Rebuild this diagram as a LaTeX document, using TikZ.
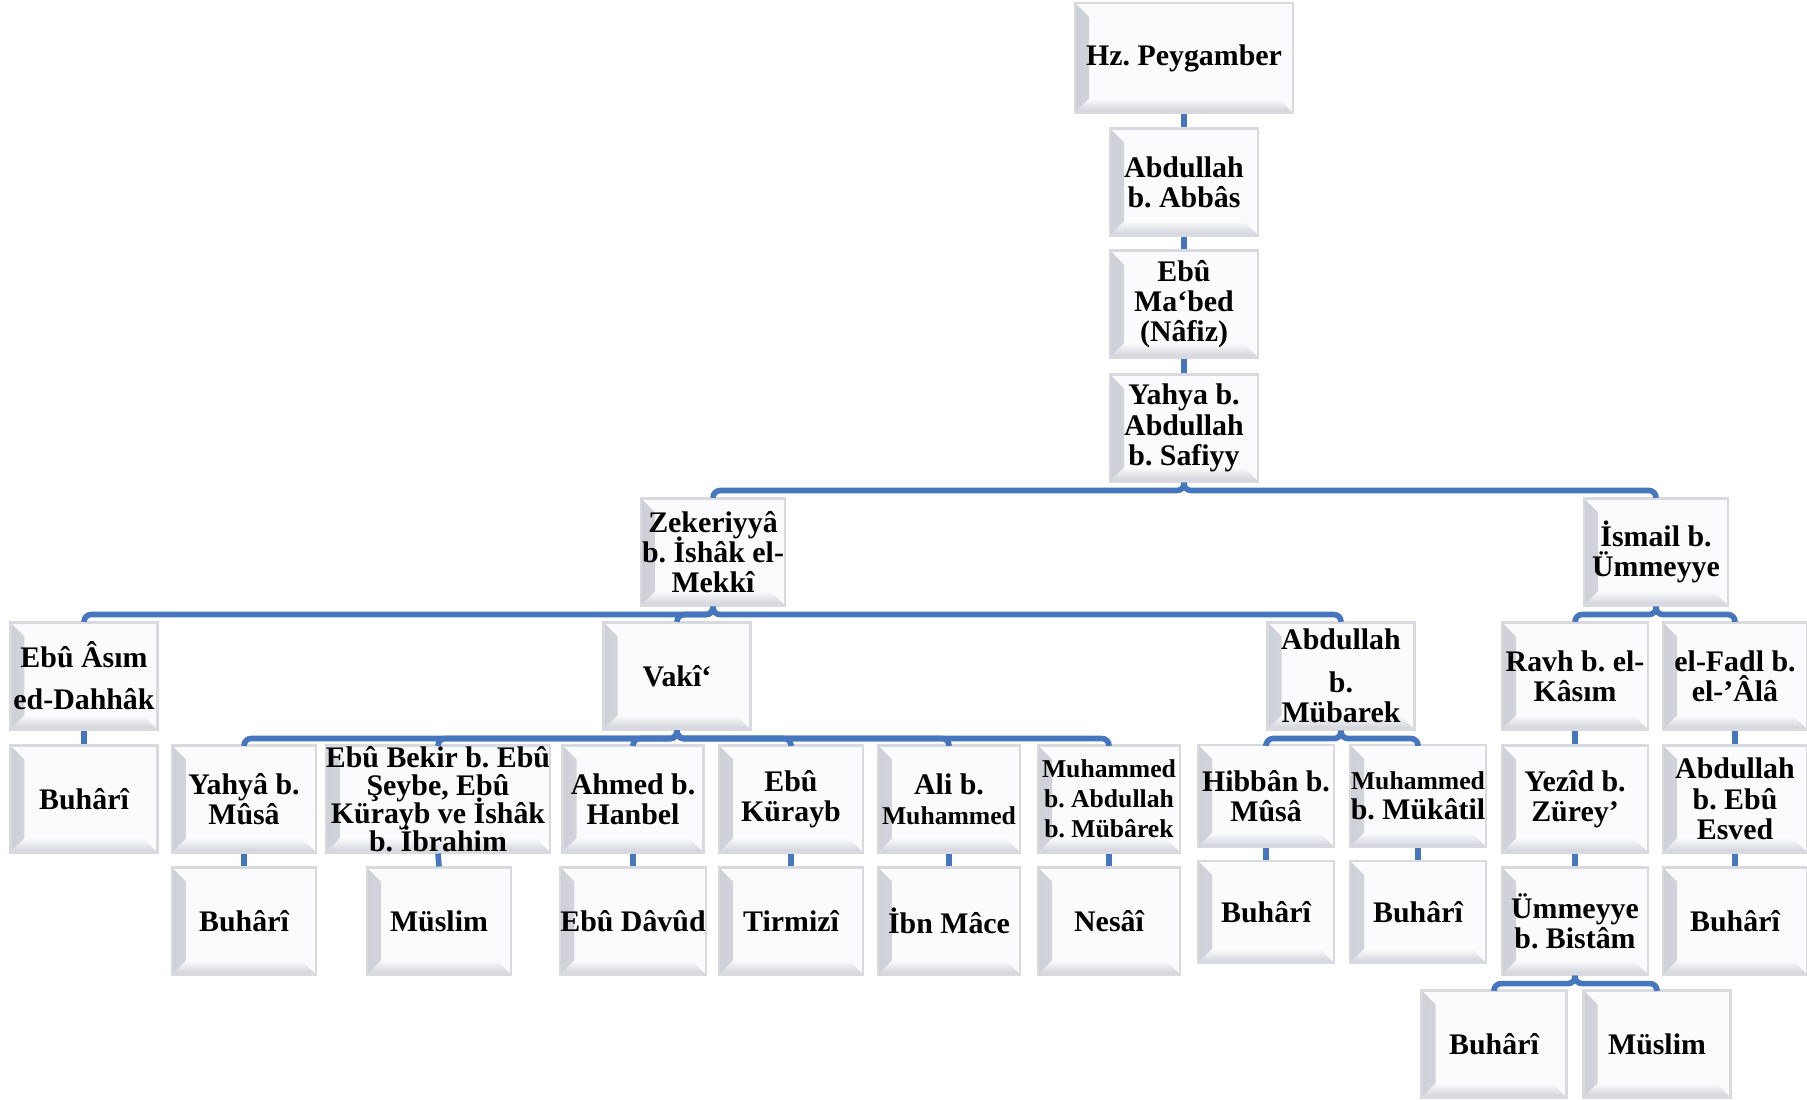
\documentclass[tikz,border=0pt]{standalone}
\usepackage{fontspec}
\setmainfont{Liberation Serif}
\usepackage{tikz}

\definecolor{linkblue}{RGB}{70,118,190}
\definecolor{boxedge}{RGB}{216,218,224}
\definecolor{boxfill}{RGB}{251,251,253}
\definecolor{bevelgray}{RGB}{206,208,216}

\newcommand{\namefont}{\fontsize{8.5pt}{8.6pt}\selectfont\bfseries
  \frenchspacing\lineskiplimit=-20pt}
\newcommand{\smallname}{\fontsize{7.3pt}{8.3pt}\selectfont}

\begin{document}
\begin{tikzpicture}[
  box/.style={draw=boxedge, line width=0.6pt, fill=boxfill,
    minimum width=1.44cm, minimum height=1.07cm, inner sep=0pt,
    align=center, font=\namefont,
    path picture={
      \shade[left color=bevelgray, right color=boxfill]
        (path picture bounding box.south west)
        -- (path picture bounding box.north west)
        -- ([shift={(0.14,-0.14)}]path picture bounding box.north west)
        -- ([shift={(0.14,0.14)}]path picture bounding box.south west) -- cycle;
      \shade[top color=boxfill, bottom color=bevelgray]
        (path picture bounding box.south west)
        -- ([shift={(0.14,0.14)}]path picture bounding box.south west)
        -- ([shift={(-0.14,0.14)}]path picture bounding box.south east)
        -- (path picture bounding box.south east) -- cycle;
    }},
  widebox/.style={box, minimum width=2.13cm},
  lowbox/.style={box, minimum width=1.36cm, minimum height=1.02cm},
  link/.style={draw=linkblue, line width=1.6pt, rounded corners=2pt},
]
  \useasboundingbox (0,0) rectangle (18.07,10.99);

  % Top chain
  \node[box, minimum width=2.18cm, minimum height=1.10cm] (peygamber) at (11.84,10.41)
    {Hz. Peygamber};
  \node[box, minimum width=1.48cm] (ibnabbas) at (11.84,9.17)
    {Abdullah\\ b. Abbâs};
  \node[box, minimum width=1.48cm] (mabed) at (11.84,7.95)
    {Ebû\\ Ma‘bed\\ (Nâfiz)};
  \node[box, minimum width=1.48cm] (safiyy) at (11.84,6.71)
    {Yahya b.\\ Abdullah\\ b. Safiyy};

  % Second level
  \node[box] (zekeriyya) at (7.13,5.47) {Zekeriyyâ\\ b. İshâk el-\\ Mekkî};
  \node[box] (ismail) at (16.56,5.47) {İsmail b.\\ Ümmeyye};

  % Third level
  \node[box, minimum width=1.47cm] (dahhak) at (0.84,4.23)
    {Ebû Âsım\\[3.4pt] ed-Dahhâk};
  \node[box, minimum width=1.47cm] (vaki) at (6.77,4.23) {Vakî‘};
  \node[box, minimum width=1.47cm] (mubarek) at (13.41,4.23)
    {Abdullah\\[3.4pt] b.\\ Mübarek};
  \node[box, minimum width=1.46cm] (ravh) at (15.75,4.23) {Ravh b. el-\\ Kâsım};
  \node[box] (fadl) at (17.35,4.23) {el-Fadl b.\\ el-’Âlâ};

  % Fourth level
  \node[box, minimum width=1.47cm] (buhari1) at (0.84,3.00) {Buhârî};
  \node[box] (yahyamusa) at (2.44,3.00) {Yahyâ b.\\ Mûsâ};
  \node[widebox, font=\namefont\fontsize{8.5pt}{8pt}\selectfont] (ebubekir) at (4.38,3.00)
    {Ebû Bekir b. Ebû\\ Şeybe, Ebû\\ Kürayb ve İshâk\\ b. İbrahim};
  \node[box, minimum width=1.41cm] (ahmed) at (6.33,3.00) {Ahmed b.\\ Hanbel};
  \node[box] (kurayb) at (7.91,3.00) {Ebû\\ Kürayb};
  \node[box, minimum width=1.42cm] (ali) at (9.49,3.00)
    {Ali b.\\ {\smallname Muhammed}};
  \node[box, minimum width=1.42cm] (muhabdullah) at (11.09,3.00)
    {\smallname Muhammed\\ \smallname b. Abdullah\\ \smallname b. Mübârek};
  \node[lowbox] (hibban) at (12.66,3.03) {Hibbân b.\\ Mûsâ};
  \node[lowbox] (mukatil) at (14.18,3.03)
    {\smallname Muhammed\\ b. Mükâtil};
  \node[box, minimum width=1.46cm] (yezid) at (15.75,3.00) {Yezîd b.\\ Zürey’};
  \node[box] (esved) at (17.35,3.00) {Abdullah\\ b. Ebû\\ Esved};

  % Fifth level
  \node[box] (buhari2) at (2.44,1.78) {Buhârî};
  \node[box] (muslim1) at (4.39,1.78) {Müslim};
  \node[box, minimum width=1.41cm] (davud) at (6.33,1.78) {Ebû Dâvûd};
  \node[box] (tirmizi) at (7.91,1.78) {Tirmizî};
  \node[box, minimum width=1.42cm] (mace) at (9.49,1.78) {İbn Mâce};
  \node[box, minimum width=1.42cm] (nesai) at (11.09,1.78) {Nesâî};
  \node[lowbox] (buhari3) at (12.66,1.87) {Buhârî};
  \node[lowbox] (buhari4) at (14.18,1.87) {Buhârî};
  \node[box, minimum width=1.46cm] (bistam) at (15.75,1.78) {Ümmeyye\\ b. Bistâm};
  \node[box] (buhari5) at (17.35,1.78) {Buhârî};

  % Bottom
  \node[box, minimum width=1.45cm] (buhari6) at (14.94,0.55) {Buhârî};
  \node[box, minimum width=1.47cm] (muslim2) at (16.57,0.55) {Müslim};

  % Links
  \draw[link] (peygamber) -- (ibnabbas);
  \draw[link] (ibnabbas) -- (mabed);
  \draw[link] (mabed) -- (safiyy);
  \draw[link] (safiyy.south) -- ++(0,-0.08) -| (zekeriyya.north);
  \draw[link] (safiyy.south) -- ++(0,-0.08) -| (ismail.north);
  \draw[link] (zekeriyya.south) -- ++(0,-0.08) -| (dahhak.north);
  \draw[link] (zekeriyya.south) -- ++(0,-0.08) -| (vaki.north);
  \draw[link] (zekeriyya.south) -- ++(0,-0.08) -| (mubarek.north);
  \draw[link] (ismail.south) -- ++(0,-0.08) -| (ravh.north);
  \draw[link] (ismail.south) -- ++(0,-0.08) -| (fadl.north);
  \draw[link] (dahhak) -- (buhari1);
  \draw[link] (vaki.south) -- ++(0,-0.08) -| (yahyamusa.north);
  \draw[link] (vaki.south) -- ++(0,-0.08) -| (ebubekir.north);
  \draw[link] (vaki.south) -- ++(0,-0.08) -| (ahmed.north);
  \draw[link] (vaki.south) -- ++(0,-0.08) -| (kurayb.north);
  \draw[link] (vaki.south) -- ++(0,-0.08) -| (ali.north);
  \draw[link] (vaki.south) -- ++(0,-0.08) -| (muhabdullah.north);
  \draw[link] (mubarek.south) -- ++(0,-0.08) -| (hibban.north);
  \draw[link] (mubarek.south) -- ++(0,-0.08) -| (mukatil.north);
  \draw[link] (ravh) -- (yezid);
  \draw[link] (fadl) -- (esved);
  \draw[link] (yahyamusa) -- (buhari2);
  \draw[link] (ebubekir.south) -- (muslim1.north);
  \draw[link] (ahmed) -- (davud);
  \draw[link] (kurayb) -- (tirmizi);
  \draw[link] (ali) -- (mace);
  \draw[link] (muhabdullah) -- (nesai);
  \draw[link] (hibban) -- (buhari3);
  \draw[link] (mukatil) -- (buhari4);
  \draw[link] (yezid) -- (bistam);
  \draw[link] (esved) -- (buhari5);
  \draw[link] (bistam.south) -- ++(0,-0.08) -| (buhari6.north);
  \draw[link] (bistam.south) -- ++(0,-0.08) -| (muslim2.north);
\end{tikzpicture}
\end{document}
